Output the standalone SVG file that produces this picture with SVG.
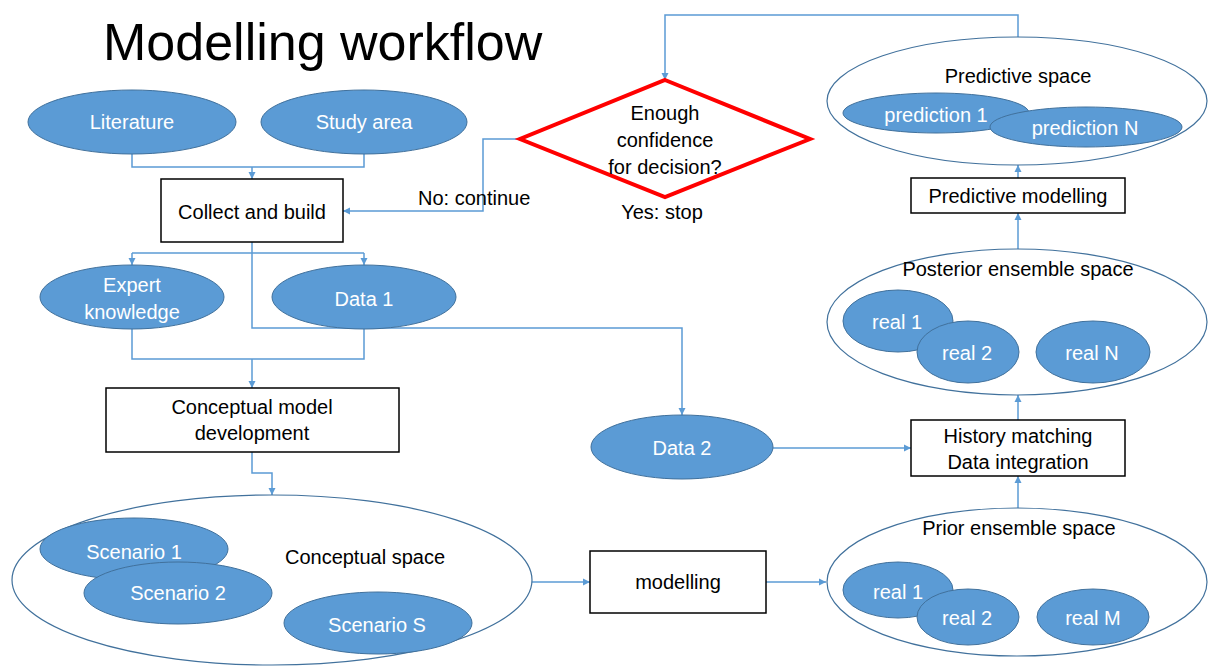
<svg xmlns="http://www.w3.org/2000/svg" width="1208" height="666" viewBox="0 0 1208 666">
<defs>
<marker id="arr" markerWidth="8" markerHeight="8" refX="7" refY="4" orient="auto" markerUnits="userSpaceOnUse"><path d="M0,0.5 L7,4 L0,7.5 Z" fill="#5B9BD5"/></marker>
</defs>
<style>
.conn{fill:none;stroke:#5B9BD5;stroke-width:1.5}
.blob{fill:#5B9BD5;stroke:#41719C;stroke-width:1}
.space{fill:#fff;stroke:#41719C;stroke-width:1.2}
.box{fill:#fff;stroke:#000;stroke-width:1.5}
.wt{font-family:"Liberation Sans",Arial,sans-serif;font-size:20px;fill:#fff;text-anchor:middle}
.bt{font-family:"Liberation Sans",Arial,sans-serif;font-size:20px;fill:#000;text-anchor:middle}
</style>
<rect width="1208" height="666" fill="#fff"/>
<text x="103" y="60" font-family="Liberation Sans, Arial, sans-serif" font-size="52" fill="#000">Modelling workflow</text>

<g id="connectors">
<path class="conn" d="M132,154 V167 H364 V154"/>
<path class="conn" d="M252,167 V179" marker-end="url(#arr)"/>
<path class="conn" d="M520,139 H483 V211 H343" marker-end="url(#arr)"/>
<path class="conn" d="M132,253 H364"/>
<path class="conn" d="M132,253 V265" marker-end="url(#arr)"/>
<path class="conn" d="M364,253 V265" marker-end="url(#arr)"/>
<path class="conn" d="M252,242 V328 H682 V415" marker-end="url(#arr)"/>
<path class="conn" d="M132,329 V359 H364 V329"/>
<path class="conn" d="M252,359 V388" marker-end="url(#arr)"/>
<path class="conn" d="M252,452 V473 H272 V495" marker-end="url(#arr)"/>
<path class="conn" d="M532,582 H590" marker-end="url(#arr)"/>
<path class="conn" d="M766,582 H826" marker-end="url(#arr)"/>
<path class="conn" d="M1018,508 V476" marker-end="url(#arr)"/>
<path class="conn" d="M773,448 H911" marker-end="url(#arr)"/>
<path class="conn" d="M1018,420 V395" marker-end="url(#arr)"/>
<path class="conn" d="M1018,249 V213" marker-end="url(#arr)"/>
<path class="conn" d="M1018,178 V165" marker-end="url(#arr)"/>
<path class="conn" d="M1018,37 V15 H665 V80" marker-end="url(#arr)"/>
</g>

<g id="literature"><ellipse class="blob" cx="132" cy="122" rx="104" ry="32"/><text class="wt" x="132" y="129">Literature</text></g>
<g id="study-area"><ellipse class="blob" cx="364" cy="122" rx="103" ry="32"/><text class="wt" x="364" y="129">Study area</text></g>
<g id="collect-build"><rect class="box" x="161" y="179" width="182" height="63"/><text class="bt" x="252" y="219">Collect and build</text></g>
<g id="decision">
<polygon points="665,80 810,139 665,197 520,139" fill="#fff" stroke="#FF0000" stroke-width="4"/>
<text class="bt" x="665" y="120">Enough</text>
<text class="bt" x="665" y="147">confidence</text>
<text class="bt" x="665" y="174">for decision?</text>
</g>
<text class="bt" x="418" y="205" style="text-anchor:start">No: continue</text>
<text class="bt" x="662" y="219">Yes: stop</text>

<g id="expert"><ellipse class="blob" cx="132" cy="297" rx="92" ry="32"/><text class="wt" x="132" y="292">Expert</text><text class="wt" x="132" y="319">knowledge</text></g>
<g id="data1"><ellipse class="blob" cx="364" cy="297" rx="92" ry="32"/><text class="wt" x="364" y="306">Data 1</text></g>
<g id="conceptual-dev"><rect class="box" x="106" y="388" width="293" height="64"/><text class="bt" x="252" y="414">Conceptual model</text><text class="bt" x="252" y="440">development</text></g>

<g id="conceptual-space">
<ellipse class="space" cx="272" cy="580" rx="260" ry="85"/>
<text class="bt" x="365" y="564">Conceptual space</text>
</g>
<g id="scenario1"><ellipse class="blob" cx="134" cy="549" rx="94" ry="31"/><text class="wt" x="134" y="559">Scenario 1</text></g>
<g id="scenario2"><ellipse class="blob" cx="178" cy="593" rx="94" ry="31"/><text class="wt" x="178" y="600">Scenario 2</text></g>
<g id="scenarioS"><ellipse class="blob" cx="378" cy="623" rx="94" ry="31"/><text class="wt" x="377" y="632">Scenario S</text></g>

<g id="modelling"><rect class="box" x="590" y="551" width="176" height="62"/><text class="bt" x="678" y="589">modelling</text></g>

<g id="prior-space">
<ellipse class="space" cx="1017" cy="582" rx="190" ry="74"/>
<text class="bt" x="1019" y="535">Prior ensemble space</text>
</g>
<g id="prior-real1"><ellipse class="blob" cx="898" cy="590" rx="55" ry="28"/><text class="wt" x="898" y="599">real 1</text></g>
<g id="prior-real2"><ellipse class="blob" cx="968" cy="617" rx="51" ry="28"/><text class="wt" x="967" y="625">real 2</text></g>
<g id="prior-realM"><ellipse class="blob" cx="1093" cy="617" rx="56" ry="28"/><text class="wt" x="1093" y="625">real M</text></g>

<g id="data2"><ellipse class="blob" cx="682" cy="447" rx="91" ry="32"/><text class="wt" x="682" y="455">Data 2</text></g>
<g id="history"><rect class="box" x="911" y="420" width="214" height="56"/><text class="bt" x="1018" y="443">History matching</text><text class="bt" x="1018" y="469">Data integration</text></g>

<g id="posterior-space">
<ellipse class="space" cx="1017" cy="322" rx="190" ry="73"/>
<text class="bt" x="1018" y="276">Posterior ensemble space</text>
</g>
<g id="post-real1"><ellipse class="blob" cx="898" cy="321" rx="55" ry="31"/><text class="wt" x="897" y="329">real 1</text></g>
<g id="post-real2"><ellipse class="blob" cx="968" cy="352" rx="51" ry="31"/><text class="wt" x="967" y="360">real 2</text></g>
<g id="post-realN"><ellipse class="blob" cx="1093" cy="352" rx="57" ry="31"/><text class="wt" x="1092" y="360">real N</text></g>

<g id="predictive-modelling"><rect class="box" x="911" y="178" width="214" height="35"/><text class="bt" x="1018" y="203">Predictive modelling</text></g>

<g id="predictive-space">
<ellipse class="space" cx="1017" cy="101" rx="190" ry="64"/>
<text class="bt" x="1018" y="83">Predictive space</text>
</g>
<g id="prediction1"><ellipse class="blob" cx="936" cy="113" rx="93" ry="20"/><text class="wt" x="936" y="122">prediction 1</text></g>
<g id="predictionN"><ellipse class="blob" cx="1086" cy="127" rx="96" ry="20"/><text class="wt" x="1085" y="135">prediction N</text></g>
</svg>
